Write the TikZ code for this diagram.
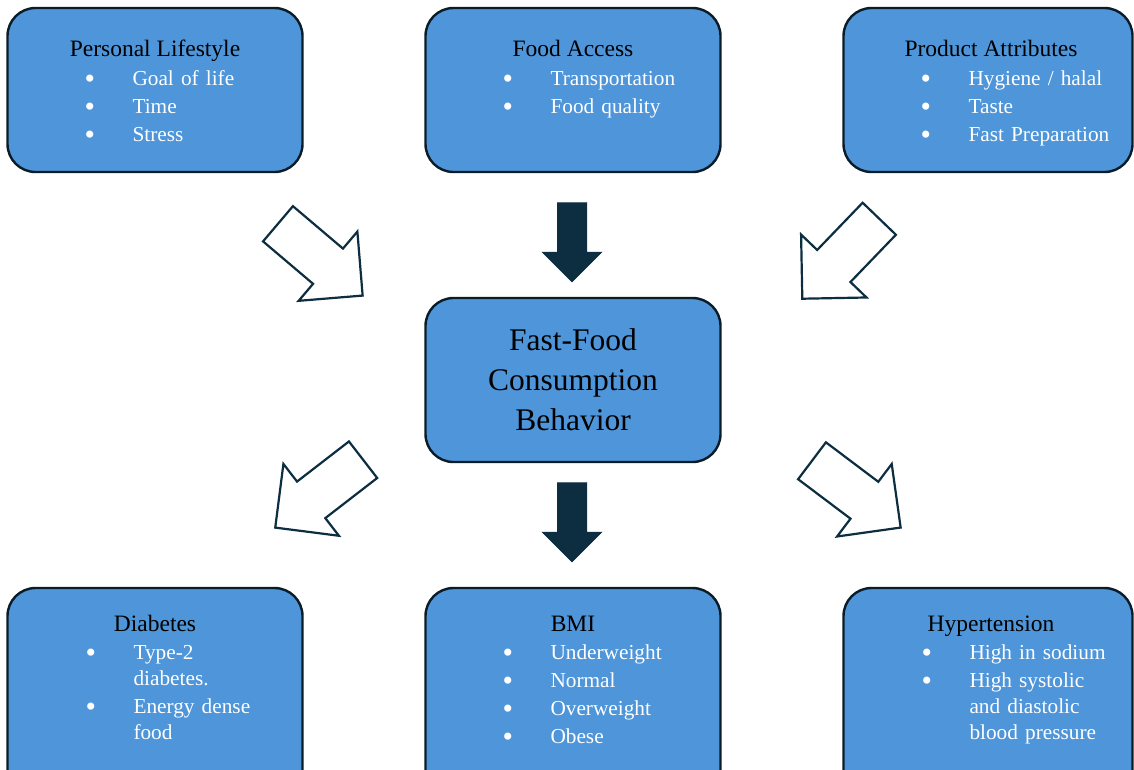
\documentclass[tikz,border=0pt]{standalone}
\usepackage{fontspec}
\setmainfont{Liberation Serif}
\usepackage{tikz}
\usetikzlibrary{positioning,calc,shapes.arrows}
\definecolor{boxblue}{RGB}{78,149,217}
\definecolor{navy}{RGB}{12,46,64}
\definecolor{edge}{RGB}{10,28,40}
\tikzstyle{box}=[
	 rectangle, draw=edge, fill=boxblue,
	 line width=2.4pt, rounded corners=28pt,
	 minimum width=295pt, minimum height=164pt, inner sep=0pt
    ]
\tikzstyle{tall}=[minimum height=210pt]
\tikzstyle{boxtitle}=[anchor=base, inner sep=0pt, font=\fontsize{23.5}{28}\selectfont]
\tikzstyle{boxitems}=[
	 anchor=base west, inner sep=0pt, text width=175pt, align=left,
	 text=white, font=\fontsize{21.3}{28}\selectfont
    ]
\tikzstyle{hollow}=[
	 single arrow, draw=navy, fill=white, line width=2.2pt,
	 single arrow tip angle=90, single arrow head extend=22.3pt,
	 inner xsep=0pt, inner ysep=22pt, minimum width=88.6pt, minimum height=111pt
    ]
\tikzstyle{darkarrow}=[
	 single arrow, draw=navy, fill=navy, line width=1pt,
	 single arrow tip angle=90, single arrow head extend=15pt,
	 inner xsep=0pt, inner ysep=14pt, minimum width=58pt, minimum height=79pt
    ]
\newcommand{\bitem}{\leavevmode\llap{\raisebox{-3pt}{\scalebox{1.4}{\textbullet}}\hspace{37.5pt}}}

\begin{document}
\begin{tikzpicture}[x=1pt,y=-1pt]

\useasboundingbox (0,0) rectangle (1134,769);
\clip (0,0) rectangle (1134,769);

\node[box,align=center,font=\fontsize{31.5}{40}\selectfont] (FF) at (573,380) {Fast-Food\\Consumption\\Behavior};

\node[box,above=123.6pt of FF] (FA) {};
\node[box,left=120.6pt of FA] (PL) {};
\node[box,right=120.6pt of FA,minimum width=289pt] (PA) {};

\node[box,tall,below=123.6pt of FF] (BMI) {};
\node[box,tall,left=120.6pt of BMI] (DB) {};
\node[box,tall,right=120.6pt of BMI,minimum width=289pt] (HT) {};

\node[boxtitle] (PLt) at ($(PL.north)+(0,49.5)$) {Personal Lifestyle};
\node[boxtitle] (FAt) at ($(FA.north)+(0,49.5)$) {Food Access};
\node[boxtitle] (PAt) at ($(PA.north)+(3,49.5)$) {Product Attributes};

\node[boxitems] (PLi) at ($(PL.north west)+(126,79)$) {\bitem Goal of life\\ \bitem Time\\ \bitem Stress};
\node[boxitems] (FAi) at ($(FA.north west)+(126,79)$) {\bitem Transportation\\ \bitem Food quality};
\node[boxitems] (PAi) at ($(PA.north west)+(126,79)$) {\bitem Hygiene / halal\\ \bitem Taste\\ \bitem Fast Preparation};

\node[boxtitle] (DBt) at ($(DB.north)+(0,44.5)$) {Diabetes};
\node[boxtitle] (BMIt) at ($(BMI.north)+(0,45)$) {BMI};
\node[boxtitle] (HTt) at ($(HT.north)+(3,45)$) {Hypertension};

\node[boxitems] (DBi) at ($(DB.north west)+(127,72.5)$) {\bitem Type-2\\[-2pt] diabetes.\\ \bitem Energy dense\\[-2pt] food};
\node[boxitems] (BMIi) at ($(BMI.north west)+(126,72.5)$) {\bitem Underweight\\ \bitem Normal\\ \bitem Overweight\\ \bitem Obese};
\node[boxitems] (HTi) at ($(HT.north west)+(127,72.5)$) {\bitem High in sodium\\ \bitem High systolic\\[-2pt] and diastolic\\[-2pt] blood pressure};

\node[hollow,rotate=-40.3] (A1) at (311.5,252.2) {};
\node[darkarrow,rotate=-90] (A2) at (572,235) {};
\node[hollow,rotate=-133.9] (A3) at (848.8,250.4) {};

\node[hollow,rotate=-142.3] (A4) at (328.3,486.6) {};
\node[darkarrow,rotate=-90] (A5) at (572,515) {};
\node[hollow,rotate=-37] (A6) at (847.1,487.2) {};

\end{tikzpicture}
\end{document}
